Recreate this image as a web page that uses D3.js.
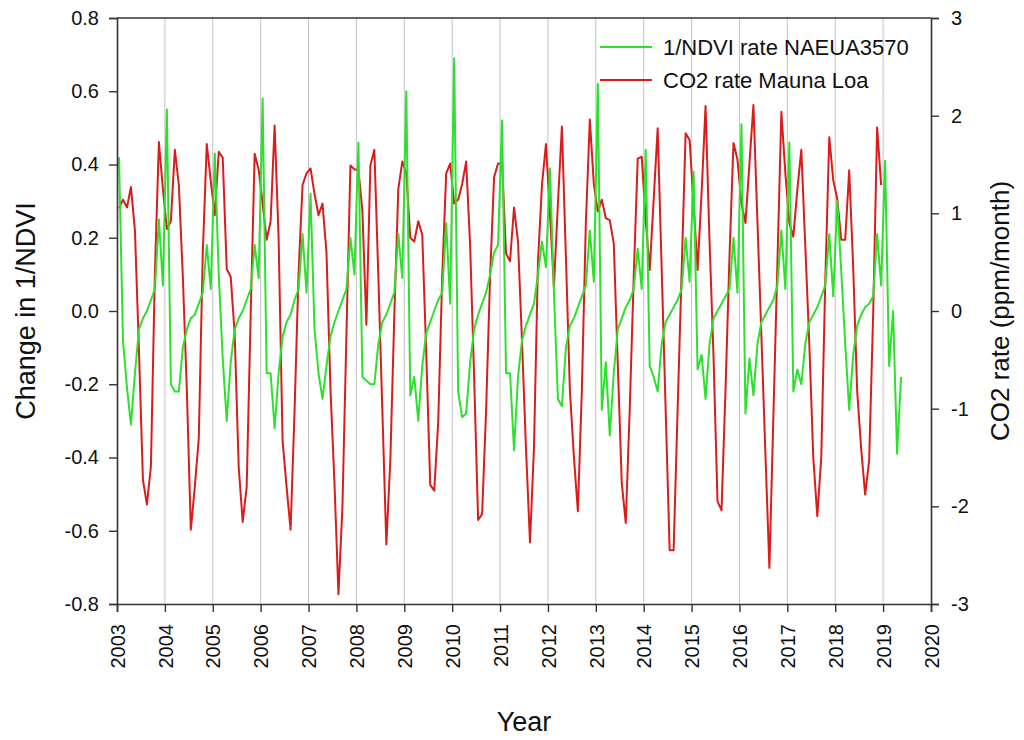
<!DOCTYPE html>
<html>
<head>
<meta charset="utf-8">
<script src="https://cdn.jsdelivr.net/npm/d3@7"></script>
<style>
  html, body { margin: 0; padding: 0; background: #fff; }
  svg { display: block; font-family: "Liberation Sans", Arial, sans-serif; }
</style>
</head>
<body>
<svg id="chart" width="1024" height="740"></svg>
<script>
// Monthly series, starting January 2003 (plotted at mid-month)
const startYear = 2003;

// Change in 1/NDVI, NAEUA3570 region (one row per year)
const ndviRate = [
  0.42, -0.08, -0.21, -0.31, -0.17, -0.05, -0.02, 0.00, 0.03, 0.06, 0.25, 0.07,   // 2003
  0.55, -0.20, -0.22, -0.22, -0.10, -0.05, -0.02, -0.01, 0.02, 0.05, 0.18, 0.06,  // 2004
  0.43, 0.10, -0.13, -0.30, -0.14, -0.05, -0.02, 0.00, 0.03, 0.06, 0.18, 0.09,    // 2005
  0.58, -0.17, -0.17, -0.32, -0.17, -0.07, -0.03, -0.01, 0.03, 0.06, 0.21, 0.05,  // 2006
  0.32, -0.05, -0.17, -0.24, -0.15, -0.07, -0.03, 0.00, 0.03, 0.06, 0.20, 0.10,   // 2007
  0.46, -0.18, -0.19, -0.20, -0.20, -0.09, -0.03, -0.01, 0.02, 0.05, 0.21, 0.09,  // 2008
  0.60, -0.23, -0.18, -0.30, -0.15, -0.06, -0.03, 0.00, 0.03, 0.05, 0.24, 0.02,   // 2009
  0.69, -0.22, -0.29, -0.28, -0.14, -0.05, -0.01, 0.02, 0.05, 0.10, 0.16, 0.18,   // 2010
  0.52, -0.17, -0.17, -0.38, -0.18, -0.08, -0.04, -0.01, 0.02, 0.10, 0.19, 0.12,  // 2011
  0.39, 0.05, -0.24, -0.26, -0.10, -0.04, -0.02, 0.01, 0.04, 0.07, 0.22, 0.08,    // 2012
  0.62, -0.27, -0.14, -0.34, -0.17, -0.05, -0.02, 0.01, 0.03, 0.06, 0.17, 0.06,   // 2013
  0.44, -0.15, -0.18, -0.22, -0.09, -0.03, -0.01, 0.01, 0.03, 0.06, 0.20, 0.08,   // 2014
  0.38, -0.16, -0.12, -0.24, -0.09, -0.02, 0.00, 0.02, 0.04, 0.06, 0.20, 0.05,    // 2015
  0.51, -0.28, -0.13, -0.23, -0.09, -0.03, -0.01, 0.01, 0.03, 0.07, 0.22, 0.06,   // 2016
  0.46, -0.22, -0.16, -0.20, -0.09, -0.03, -0.01, 0.01, 0.04, 0.07, 0.21, 0.04,   // 2017
  0.30, 0.11, -0.09, -0.27, -0.12, -0.04, -0.01, 0.01, 0.02, 0.04, 0.21, 0.07,    // 2018
  0.41, -0.15, 0.00, -0.39, -0.18                                                 // 2019
];

// CO2 growth rate at Mauna Loa, ppm/month (one row per year)
const co2Rate = [
  1.05, 1.14, 1.06, 1.27, 0.82, -0.40, -1.73, -1.98, -1.59, 0.40, 1.73, 1.25,   // 2003
  0.84, 0.92, 1.65, 1.29, 0.35, -0.80, -2.24, -1.80, -1.30, 0.60, 1.71, 1.33,   // 2004
  0.98, 1.63, 1.57, 0.43, 0.35, -0.24, -1.60, -2.16, -1.80, -0.04, 1.61, 1.45,  // 2005
  1.10, 0.73, 0.92, 1.90, 0.75, -1.33, -1.80, -2.24, -1.02, 0.39, 1.29, 1.41,   // 2006
  1.46, 1.20, 0.98, 1.10, 0.60, -0.80, -1.76, -2.90, -2.00, -0.24, 1.49, 1.45,  // 2007
  1.45, 1.02, -0.14, 1.49, 1.65, 0.35, -1.02, -2.39, -1.53, -0.04, 1.25, 1.53,  // 2008
  1.41, 0.75, 0.71, 0.92, 0.78, -0.43, -1.78, -1.84, -1.14, 0.35, 1.41, 1.51,   // 2009
  1.10, 1.14, 1.30, 1.53, 0.67, -0.67, -2.14, -2.08, -1.02, 0.35, 1.37, 1.51,   // 2010
  1.51, 0.59, 0.51, 1.06, 0.71, -0.31, -1.41, -2.37, -1.40, 0.50, 1.29, 1.71,   // 2011
  1.00, 0.25, 1.10, 1.89, 0.56, -0.81, -1.49, -2.05, -0.81, 0.90, 1.96, 1.30,   // 2012
  1.02, 1.14, 0.95, 0.93, 0.69, -0.54, -1.76, -2.17, -1.00, 0.35, 1.56, 1.58,   // 2013
  0.93, 0.42, 1.14, 1.87, 0.44, -1.01, -2.45, -2.45, -1.01, 0.40, 1.82, 1.75,   // 2014
  1.10, 0.42, 1.20, 2.10, 0.71, -0.47, -1.95, -2.04, -0.81, 0.56, 1.72, 1.55,   // 2015
  1.10, 0.90, 1.51, 2.11, 0.92, -0.26, -1.46, -2.63, -1.08, 0.48, 2.04, 1.41,   // 2016
  0.90, 0.76, 1.24, 1.65, 0.66, -0.33, -1.50, -2.10, -1.50, 0.30, 1.78, 1.34,   // 2017
  1.15, 0.73, 0.73, 1.44, 0.45, -0.82, -1.41, -1.88, -1.53, -0.04, 1.88, 1.29   // 2018
];

// Axis ticks
const yearTicks = d3.range(2003, 2021);
const leftTicks = [-0.8, -0.6, -0.4, -0.2, 0.0, 0.2, 0.4, 0.6, 0.8];
const rightTicks = [-3, -2, -1, 0, 1, 2, 3];

const seriesNames = ["1/NDVI rate NAEUA3570", "CO2 rate Mauna Loa"];
const seriesColors = ["#2ee02e", "#da1c1c"];

const svg = d3.select("#chart");
const plot = { left: 117, right: 931, top: 18, bottom: 604 };

const x = d3.scaleLinear().domain([2003, 2020]).range([plot.left, plot.right]);
const yL = d3.scaleLinear().domain([-0.8, 0.8]).range([plot.bottom, plot.top]);
const yR = d3.scaleLinear().domain([-3, 3]).range([plot.bottom, plot.top]);

const toPoints = vals => vals.map((v, i) => ({ t: startYear + (i + 0.5) / 12, v }));

// Vertical year gridlines
svg.append("g")
  .selectAll("line")
  .data(yearTicks.slice(1, -1))
  .join("line")
  .attr("x1", d => x(d)).attr("x2", d => x(d))
  .attr("y1", plot.top).attr("y2", plot.bottom)
  .attr("stroke", "#c4c4c4").attr("stroke-width", 1);

// Series lines
const lineL = d3.line().x(d => x(d.t)).y(d => yL(d.v));
const lineR = d3.line().x(d => x(d.t)).y(d => yR(d.v));

svg.append("path")
  .datum(toPoints(co2Rate))
  .attr("d", lineR)
  .attr("fill", "none")
  .attr("stroke", seriesColors[1])
  .attr("stroke-width", 2)
  .attr("stroke-linejoin", "round");

svg.append("path")
  .datum(toPoints(ndviRate))
  .attr("d", lineL)
  .attr("fill", "none")
  .attr("stroke", seriesColors[0])
  .attr("stroke-width", 2)
  .attr("stroke-linejoin", "round");

// Axes
const axisColor = "#333";
const tickFont = "20px";

const gLeft = svg.append("g")
  .attr("transform", `translate(${plot.left},0)`)
  .call(d3.axisLeft(yL).tickValues(leftTicks).tickFormat(d3.format(".1f")).tickSizeOuter(0).tickSize(8).tickPadding(10));

const gRight = svg.append("g")
  .attr("transform", `translate(${plot.right},0)`)
  .call(d3.axisRight(yR).tickValues(rightTicks).tickFormat(d3.format("d")).tickSizeOuter(0).tickSize(8).tickPadding(12));

const gBottom = svg.append("g")
  .attr("transform", `translate(0,${plot.bottom})`)
  .call(d3.axisBottom(x).tickValues(yearTicks).tickFormat(d3.format("d")).tickSizeOuter(0).tickSize(8));

[gLeft, gRight, gBottom].forEach(g => {
  g.select(".domain").attr("stroke", axisColor).attr("stroke-width", 1.6);
  g.selectAll(".tick line").attr("stroke", axisColor).attr("stroke-width", 1.4);
  g.selectAll("text")
    .attr("fill", "#111")
    .style("font-size", tickFont)
    .style("font-family", "'Liberation Sans', Arial, sans-serif");
});

// Minus signs as plain hyphens
gLeft.selectAll("text").text(d => d3.format(".1f")(d).replace("−", "-"));
gRight.selectAll("text").text(d => String(d));

// Rotated year labels
gBottom.selectAll(".tick text")
  .attr("transform", "rotate(-90)")
  .attr("text-anchor", "end")
  .attr("x", -20)
  .attr("y", 0)
  .attr("dy", "0.36em");

// Top frame line
svg.append("line")
  .attr("x1", plot.left).attr("x2", plot.right)
  .attr("y1", plot.top).attr("y2", plot.top)
  .attr("stroke", axisColor).attr("stroke-width", 1.6);

// Axis titles
svg.append("text")
  .attr("transform", `translate(35,${(plot.top + plot.bottom) / 2}) rotate(-90)`)
  .attr("text-anchor", "middle")
  .style("font-size", "27px")
  .attr("fill", "#111")
  .text("Change in 1/NDVI");

svg.append("text")
  .attr("transform", `translate(1000,${(plot.top + plot.bottom) / 2}) rotate(-90)`)
  .attr("text-anchor", "middle")
  .attr("dy", "0.35em")
  .style("font-size", "26px")
  .attr("fill", "#111")
  .text("CO2 rate (ppm/month)");

svg.append("text")
  .attr("x", (plot.left + plot.right) / 2)
  .attr("y", 731)
  .attr("text-anchor", "middle")
  .style("font-size", "27px")
  .attr("fill", "#111")
  .text("Year");

// Legend
const legend = svg.append("g").attr("transform", "translate(600,47)");
seriesNames.forEach((name, i) => {
  const row = legend.append("g").attr("transform", `translate(0,${i * 33})`);
  row.append("line")
    .attr("x1", 0).attr("x2", 52).attr("y1", 0).attr("y2", 0)
    .attr("stroke", seriesColors[i]).attr("stroke-width", 2);
  row.append("text")
    .attr("x", 63).attr("y", 0).attr("dy", "0.35em")
    .style("font-size", "22px")
    .attr("fill", "#111")
    .text(name);
});
</script>
</body>
</html>
